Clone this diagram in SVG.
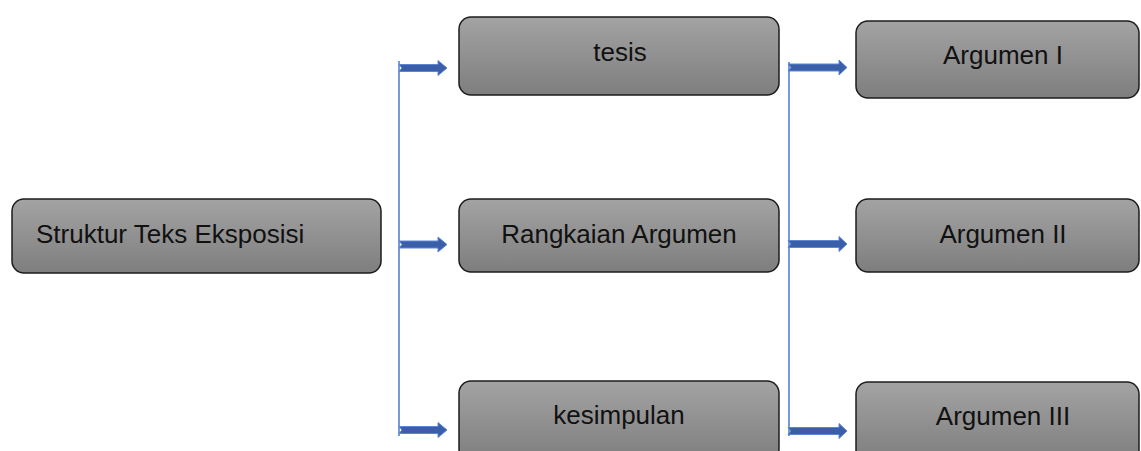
<svg xmlns="http://www.w3.org/2000/svg" width="1141" height="451" viewBox="0 0 1141 451">
<defs>
<linearGradient id="g" x1="0" y1="0" x2="0" y2="1">
<stop offset="0" stop-color="#a3a3a3"/>
<stop offset="1" stop-color="#7e7e7e"/>
</linearGradient>
<style>
.box{fill:url(#g);stroke:#1c1c1c;stroke-width:1.5}
.t{font-family:"Liberation Sans",Arial,sans-serif;font-size:26px;fill:#111}
.c{text-anchor:middle}
.v{stroke:#4a78cc;stroke-width:1.5;fill:none}
.a{fill:#3b5ea8;stroke:#5b86d4;stroke-width:1}
</style>
</defs>
<rect width="1141" height="451" fill="#fff"/>
<g id="connectors">
<line class="v" x1="399" y1="61" x2="399" y2="436"/>
<line class="v" x1="789" y1="62" x2="789" y2="436"/>
<polygon class="a" points="399,64.5 438,64.5 438,60.5 447,68 438,75.5 438,71.5 399,71.5 402,68"/>
<polygon class="a" points="399,241 438,241 438,237 447,244.5 438,252 438,248 399,248 402,244.5"/>
<polygon class="a" points="399,426.5 438,426.5 438,422.5 447,430 438,437.5 438,433.5 399,433.5 402,430"/>
<polygon class="a" points="788,64 839,64 839,60 847,67.5 839,75 839,71 788,71 791,67.5"/>
<polygon class="a" points="788,240.5 839,240.5 839,236.5 847,244 839,251.5 839,247.5 788,247.5 791,244"/>
<polygon class="a" points="788,427.5 839,427.5 839,423.5 847,431 839,438.5 839,434.5 788,434.5 791,431"/>
</g>
<g id="struktur">
<rect class="box" x="12" y="199" width="369" height="74" rx="12"/>
<text class="t" x="36" y="243">Struktur Teks Eksposisi</text>
</g>
<g id="tesis">
<rect class="box" x="459" y="17" width="320" height="78" rx="12"/>
<text class="t c" x="620" y="61">tesis</text>
</g>
<g id="rangkaian">
<rect class="box" x="459" y="199" width="320" height="73" rx="12"/>
<text class="t c" x="619" y="243">Rangkaian Argumen</text>
</g>
<g id="kesimpulan">
<rect class="box" x="459" y="381" width="320" height="80" rx="12"/>
<text class="t c" x="619" y="424">kesimpulan</text>
</g>
<g id="argumen1">
<rect class="box" x="856" y="21" width="283" height="77" rx="12"/>
<text class="t c" x="1003" y="64">Argumen I</text>
</g>
<g id="argumen2">
<rect class="box" x="856" y="199" width="283" height="73" rx="12"/>
<text class="t c" x="1003" y="243">Argumen II</text>
</g>
<g id="argumen3">
<rect class="box" x="856" y="382" width="283" height="80" rx="12"/>
<text class="t c" x="1003" y="425">Argumen III</text>
</g>
</svg>
